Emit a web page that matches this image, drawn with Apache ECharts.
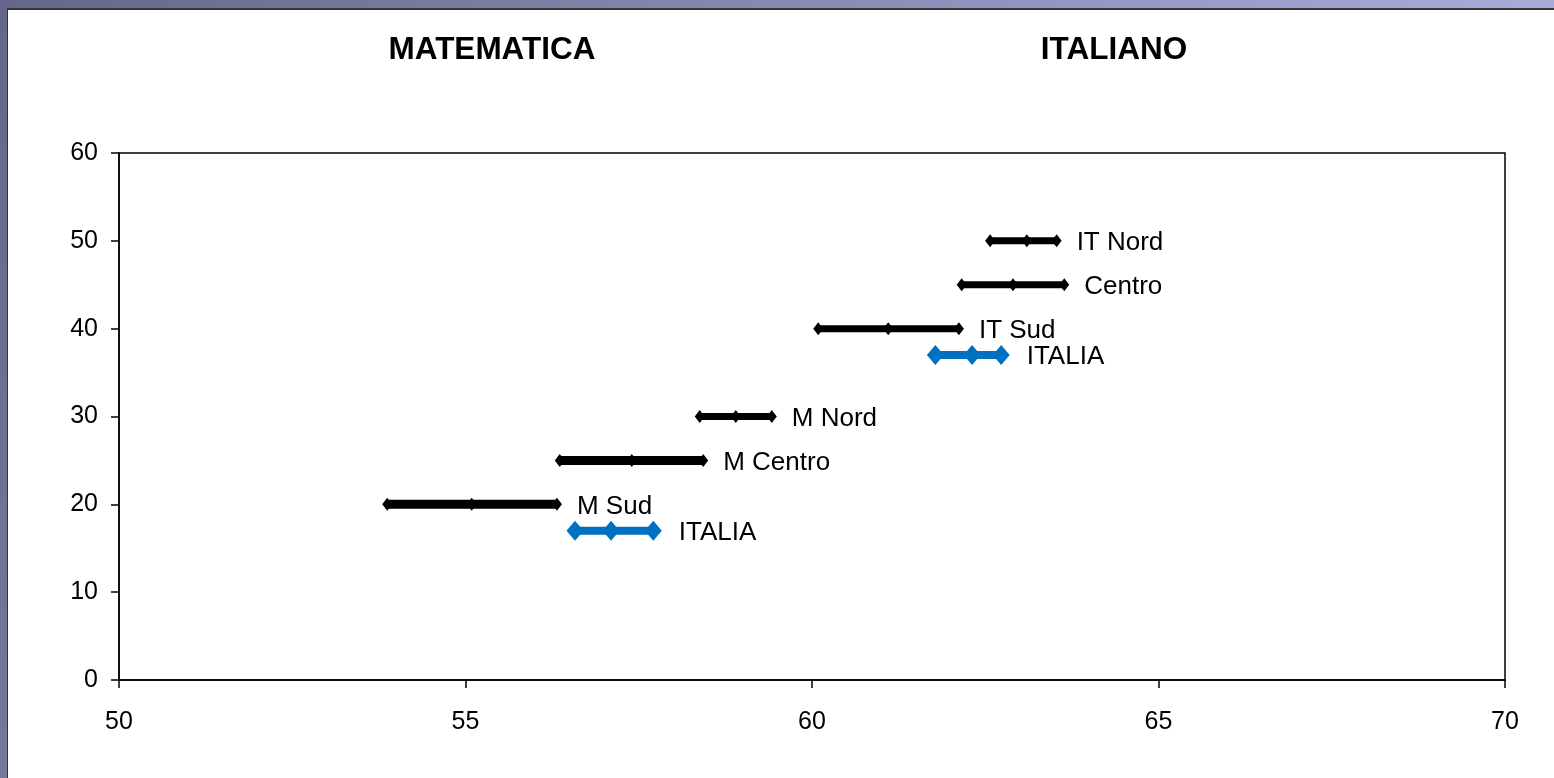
<!DOCTYPE html>
<html>
<head>
<meta charset="utf-8">
<script src="https://cdn.jsdelivr.net/npm/echarts@6/dist/echarts.min.js"></script>
<style>
html,body{margin:0;padding:0;background:#fff;}
#chart{width:1554px;height:778px;}
</style>
</head>
<body>
<div id="chart"></div>
<script>
// Range labels (top to bottom)
const rangeNames = ['IT Nord', 'Centro', 'IT Sud', 'ITALIA', 'M Nord', 'M Centro', 'M Sud', 'ITALIA'];
// Vertical position of each range
const rangeY = [50, 45, 40, 37, 30, 25, 20, 17];
// Lower end, middle point, upper end of each range
const rangeLow  = [62.57, 62.16, 60.09, 61.78, 58.38, 56.36, 53.87, 56.58];
const rangeMid  = [63.10, 62.90, 61.10, 62.31, 58.90, 57.40, 55.09, 57.10];
const rangeHigh = [63.53, 63.64, 62.12, 62.73, 59.42, 58.43, 56.32, 57.71];
// Whether the range is the national (ITALIA) one
const isNational = [false, false, false, true, false, false, false, true];
const lineWidths = [7, 7, 7, 8, 7, 9, 9, 8];

const xTicks = [50, 55, 60, 65, 70];
const yTicks = [0, 10, 20, 30, 40, 50, 60];
const titles = ['MATEMATICA', 'ITALIANO'];

const FONT = "'Liberation Sans', Arial, sans-serif";

const series = rangeNames.map((name, i) => {
  const nat = isNational[i];
  const color = nat ? '#0070c0' : '#000000';
  const pts = [rangeLow[i], rangeMid[i], rangeHigh[i]];
  return {
    type: 'line',
    name: name + i,
    data: pts.map((x, j) => ({
      value: [x, rangeY[i]],
      label: j === 2 ? {
        show: true,
        position: 'right',
        distance: nat ? 17 : 15,
        offset: [0, 2],
        formatter: name,
        color: '#000',
        fontSize: 26,
        fontFamily: FONT
      } : { show: false }
    })),
    symbol: 'diamond',
    symbolSize: nat ? [17, 20] : [10, 13],
    showSymbol: true,
    lineStyle: { color: color, width: lineWidths[i] },
    itemStyle: { color: color, borderWidth: 0 },
    emphasis: { disabled: true },
    animation: false,
    z: nat ? 3 : 2
  };
});

const chart = echarts.init(document.getElementById('chart'), null, { renderer: 'canvas' });
chart.setOption({
  backgroundColor: 'transparent',
  animation: false,
  graphic: [
    {
      type: 'rect', z: -10, silent: true,
      shape: { x: 0, y: 0, width: 1554, height: 778 },
      style: {
        fill: new echarts.graphic.LinearGradient(0, 0, 1, 1, [
          { offset: 0, color: '#66668a' },
          { offset: 1, color: '#bcbcec' }
        ])
      }
    },
    {
      type: 'rect', z: -9, silent: true,
      shape: { x: 7, y: 8, width: 1547, height: 770 },
      style: { fill: '#333338' }
    },
    {
      type: 'rect', z: -8, silent: true,
      shape: { x: 8, y: 10, width: 1546, height: 768 },
      style: { fill: '#ffffff' }
    }
  ],
  title: [
    {
      text: titles[0], left: 487, top: 29, textAlign: 'center',
      textStyle: { fontSize: 31.5, fontWeight: 'bold', color: '#000', fontFamily: FONT }
    },
    {
      text: titles[1], left: 1109, top: 29, textAlign: 'center',
      textStyle: { fontSize: 31.5, fontWeight: 'bold', color: '#000', fontFamily: FONT }
    }
  ],
  grid: {
    left: 119, right: 49, top: 153, bottom: 98,
    show: true, borderColor: '#000', borderWidth: 1.5, backgroundColor: 'transparent'
  },
  xAxis: {
    type: 'value', min: 50, max: 70, interval: 5,
    axisLine: { show: true, onZero: false, lineStyle: { color: '#000', width: 1.5 } },
    axisTick: { show: true, inside: false, length: 8, lineStyle: { color: '#000', width: 1.5 } },
    splitLine: { show: false },
    axisLabel: {
      margin: 30, color: '#000', fontSize: 25, fontFamily: FONT,
      formatter: v => xTicks.includes(v) ? String(v) : ''
    }
  },
  yAxis: {
    type: 'value', min: 0, max: 60, interval: 10,
    axisLine: { show: true, onZero: false, lineStyle: { color: '#000', width: 1.5 } },
    axisTick: { show: true, inside: false, length: 8, lineStyle: { color: '#000', width: 1.5 } },
    splitLine: { show: false },
    axisLabel: {
      margin: 21, color: '#000', fontSize: 25, fontFamily: FONT,
      formatter: v => yTicks.includes(v) ? String(v) : ''
    }
  },
  series: series
});
</script>
</body>
</html>
